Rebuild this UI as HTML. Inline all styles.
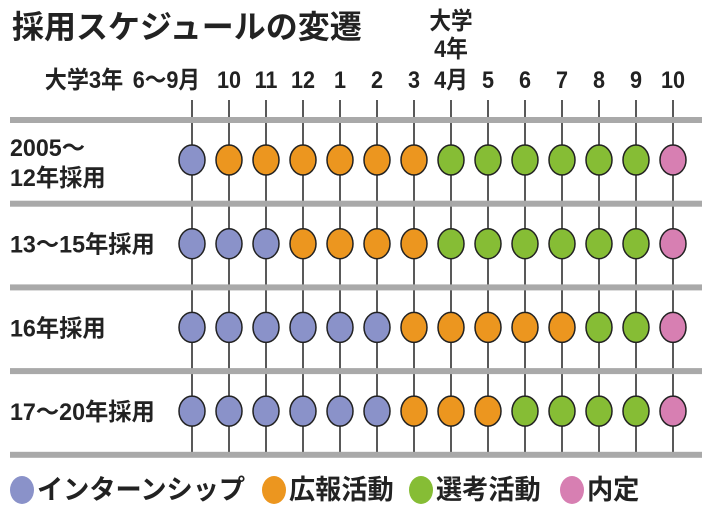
<!DOCTYPE html>
<html><head><meta charset="utf-8"><style>
html,body{margin:0;padding:0;background:#fff;}
svg{display:block;font-family:"Liberation Sans","Noto Sans CJK JP",sans-serif;}
</style></head><body>
<svg id="chart" width="710" height="514" viewBox="0 0 710 514">
<text x="12" y="38" font-size="32" font-weight="bold" fill="#222">採用スケジュールの変遷</text>
<g id="grid"></g><g id="marks"></g><g id="labels"></g><g id="legend"></g>
</svg>
<script>
const months = ["6〜9月","10","11","12","1","2","3","4月","5","6","7","8","9","10"];
const rowLabels = [["2005〜","12年採用"],["13〜15年採用"],["16年採用"],["17〜20年採用"]];
const phases = [
 [0,1,1,1,1,1,1,2,2,2,2,2,2,3],
 [0,0,0,1,1,1,1,2,2,2,2,2,2,3],
 [0,0,0,0,0,0,1,1,1,1,1,2,2,3],
 [0,0,0,0,0,0,1,1,1,2,2,2,2,3]
];
const legendNames = ["インターンシップ","広報活動","選考活動","内定"];
const colors = ["#8a92c9","#ec961f","#86bd35","#d77fb2"];
const NS="http://www.w3.org/2000/svg";
const xOf=i=>192+i*37;
const rowY=r=>160+r*83.7;
const sepY=k=>120+k*83.7;
function mk(tag,attrs,parent){const e=document.createElementNS(NS,tag);for(const k in attrs)e.setAttribute(k,attrs[k]);parent.appendChild(e);return e;}
function sx(x,s){return `translate(${x},0) scale(${s},1) translate(${-x},0)`;}
const grid=document.getElementById('grid'),marks=document.getElementById('marks'),labels=document.getElementById('labels'),legend=document.getElementById('legend');
months.forEach((m,i)=>{
 const l=mk('line',{x1:xOf(i),x2:xOf(i),y1:100,y2:sepY(rowLabels.length),stroke:'#222','stroke-width':1.5},grid);
 
 
 const ax=i===0?xOf(i)+8:xOf(i);
 const t=mk('text',{x:ax,y:88,'font-size':24,'font-weight':'bold','text-anchor':i===0?'end':'middle',fill:'#222',transform:sx(ax,0.9)},labels);
 t.textContent=m;
 
 
});
const pre=mk('text',{x:84,y:88,'font-size':24,'font-weight':'bold','text-anchor':'middle',fill:'#222',transform:sx(84,0.92)},labels);
pre.textContent='大学3年';


[["大学",29],["4年",57]].forEach(([s,y])=>{const t=mk('text',{x:xOf(7),y:y,'font-size':24,'font-weight':'bold','text-anchor':'middle',fill:'#222',transform:sx(xOf(7),0.9)},labels);t.textContent=s;
 
 });
for(let k=0;k<=rowLabels.length;k++){
 const r=mk('rect',{x:10,y:sepY(k)-3,width:692,height:6,fill:'#a9a9a9'},grid);
 
 
}
phases.forEach((row,r)=>{
 const lb=rowLabels[r];
 lb.forEach((s,j)=>{const y=lb.length===1?rowY(r)+9:rowY(r)-4+j*30;
  const t=mk('text',{x:10,y:y,'font-size':24,'font-weight':'bold',fill:'#222',transform:sx(10,0.97)},labels);t.textContent=s;
  
  });
 row.forEach((p,i)=>{
  const c=mk('ellipse',{cx:xOf(i),cy:rowY(r),rx:13,ry:15,fill:colors[p],stroke:'#222','stroke-width':1.5},marks);
  
  
 });
});
const lx=[22,274,421,572];
legendNames.forEach((n,i)=>{
 const c=mk('ellipse',{cx:lx[i],cy:490,rx:12,ry:14,fill:colors[i]},legend);
 
 
 const tx=lx[i]+15;
 const t=mk('text',{x:tx,y:499,'font-size':27,'font-weight':'bold',fill:'#222',transform:sx(tx,0.97)},legend);
 t.textContent=n;
 
 
});
</script>
</body></html>
